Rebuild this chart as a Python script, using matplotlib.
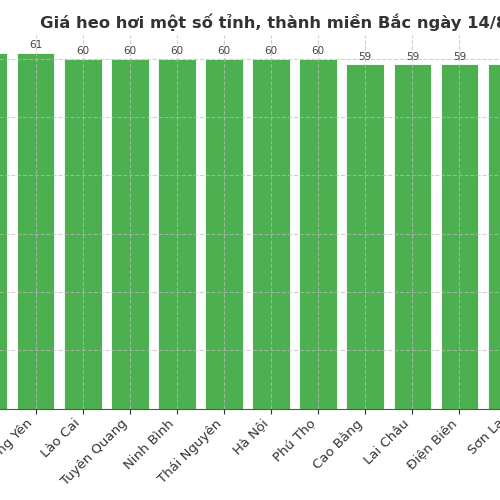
import matplotlib
matplotlib.use("Agg")
import matplotlib.pyplot as plt

provinces = ["Hải Dương", "Hưng Yên", "Lào Cai", "Tuyên Quang", "Ninh Bình", "Thái Nguyên",
             "Hà Nội", "Phú Thọ", "Cao Bằng", "Lai Châu", "Điện Biên", "Sơn La"]
prices = [61, 61, 60, 60, 60, 60, 60, 60, 59, 59, 59, 59]
title = "Giá heo hơi một số tỉnh, thành miền Bắc ngày 14/8/2024"

fig = plt.figure(figsize=(5, 5), dpi=100)
# axes extends beyond the visible crop
ax = fig.add_axes([-0.0794, 0.183, 1.149, 0.747])
x = list(range(len(provinces)))
bars = ax.bar(x, prices, width=0.8, color="#4CAF50", edgecolor="white", linewidth=0.6, zorder=1)
ax.set_xlim(-0.6, len(provinces) - 0.4)
ax.set_ylim(0, 64.05)
ax.grid(True, linestyle="--", color="#bbbbbb", alpha=0.7, linewidth=0.8, zorder=3)
ax.set_axisbelow(False)
for s in ["top", "right", "left"]:
    ax.spines[s].set_visible(False)
ax.spines["bottom"].set_color("#555555")
ax.set_xticks(x)
ax.set_xticklabels(provinces, rotation=45, ha="right", fontsize=9.5, color="#333333")
ax.tick_params(axis="x", colors="#333333", length=3.5, pad=2.5)
ax.tick_params(axis="y", left=False, labelleft=False)
for xi, v in zip(x, prices):
    ax.text(xi, v + 0.4, str(v), ha="center", va="bottom", fontsize=7.5, color="#444444")
fig.text(0.08, 0.956, title, ha="left", va="center",
         fontsize=11.8, fontweight="bold", color="#333333")
fig.savefig("out.png", dpi=100)
